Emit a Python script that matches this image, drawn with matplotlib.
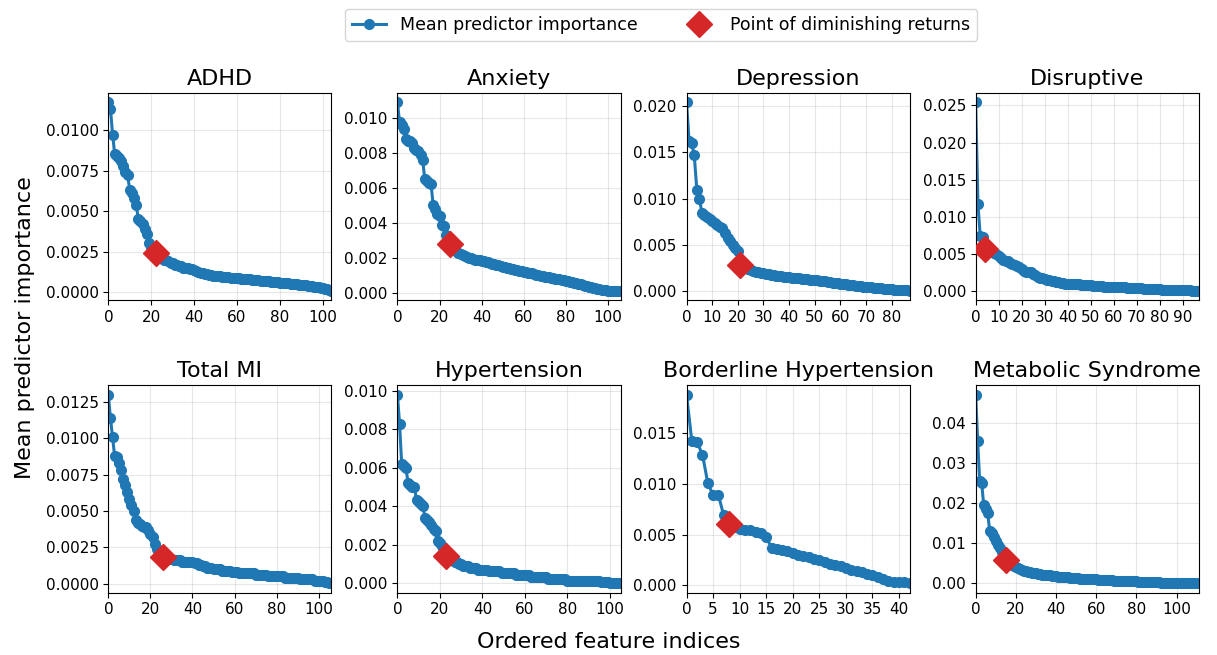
import matplotlib
matplotlib.use("Agg")
import matplotlib.pyplot as plt
from matplotlib.lines import Line2D
from matplotlib.ticker import MaxNLocator, MultipleLocator

plt.rcParams['font.family'] = ['DejaVu Sans']

titles = ["ADHD", "Anxiety", "Depression", "Disruptive",
          "Total MI", "Hypertension", "Borderline Hypertension", "Metabolic Syndrome"]

# knee index (point of diminishing returns) for each outcome
knees = [22, 25, 21, 4, 26, 23, 8, 15]

adhd = [.0117, .0113, .0097, .0085, .0084, .0083, .0081, .0078, .0074, .0072,
        .0063, .0061, .0058, .0054, .0045, .0044, .0042, .0039, .0036, .0030,
        .0028, .0026, .0024, .0023, .0022, .0021, .0020, .0020, .0019, .0018,
        .0018, .0017, .0017, .0016, .0016, .0015, .0015, .0015, .0014, .0014,
        .00135, .00130, .00125, .00120, .00117, .00113, .00110, .00107, .00104, .00102,
        .00100, .00099, .00097, .00096, .00095, .00093, .00092, .00090, .00089, .00088,
        .00086, .00085, .00083, .00082, .00080, .00079, .00078, .00076, .00075, .00074,
        .00072, .00071, .00070, .00068, .00067, .00066, .00064, .00063, .00062, .00060,
        .00059, .00057, .00056, .00054, .00053, .00051, .00050, .00048, .00047, .00045,
        .00044, .00042, .00041, .00039, .00038, .00036, .00034, .00032, .00030, .00027,
        .00024, .00021, .00017, .00012, .00007]

anxiety = [.0109, .0098, .0096, .0094, .0088, .0087, .0087, .0086, .0083, .0082,
           .0081, .0079, .0076, .0065, .0064, .0063, .0062, .0050, .0048, .0045,
           .0044, .0039, .0038, .0033, .0031, .0028, .0026, .0025, .0024, .0023,
           .0022, .00215, .0021, .00205, .0020, .00197, .00194, .0019, .00188, .00185,
           .00182, .0018, .00177, .00174, .0017, .00167, .00164, .0016, .00157, .00154,
           .0015, .00147, .00144, .0014, .00137, .00134, .0013, .00128, .00125, .00122,
           .0012, .00118, .00115, .00112, .0011, .00107, .00104, .0010, .00098, .00095,
           .00092, .00090, .00088, .00085, .00083, .00080, .00078, .00076, .00073, .00071,
           .00068, .00065, .00062, .00059, .00056, .00053, .00050, .00047, .00044, .00041,
           .00038, .00035, .00032, .00029, .00026, .00023, .00020, .00017, .00015, .00013,
           .00011, .0001, .0001, .0001, .0001, .0001, .0001]

depression = [.0204, .0162, .0160, .0147, .0110, .0100, .0085, .0083, .0080, .0078,
              .0076, .0074, .0072, .0070, .0068, .0063, .0058, .0054, .0050, .0047,
              .0044, .0028, .0026, .0025, .0024, .0023, .0022, .0021, .0021, .0020,
              .0020, .0019, .0019, .0018, .0018, .0017, .0017, .0017, .0016, .0016,
              .0016, .0015, .0015, .0014, .0014, .0013, .0013, .0013, .0012, .0012,
              .0012, .0012, .0011, .0011, .0011, .0010, .0010, .0009, .0009, .0009,
              .0008, .0008, .0008, .0007, .0007, .0007, .0006, .0006, .0006, .0005,
              .0005, .0005, .0005, .0004, .0004, .0004, .0004, .0003, .0003, .0003,
              .0003, .0002, .0002, .0002, .0001, .0001, .0001, .00005]

disruptive = [.0254, .0117, .0074, .0073, .0057, .0055, .0053, .0052, .0051, .0050,
              .0047, .0044, .0042, .0041, .0040, .0038, .0036, .0035, .0034, .0032,
              .0029, .0027, .0026, .0026, .0025, .0023, .0021, .0019, .0018, .0017,
              .0016, .0015, .0015, .0014, .0013, .0012, .0012, .0011, .0011, .0010,
              .0010, .0010, .0009, .0009, .0009, .0009, .0008, .0008, .0008, .0008,
              .0008, .0007, .0007, .0007, .0007, .0007, .0006, .0006, .0006, .0006,
              .0006, .0005, .0005, .0005, .0005, .0005, .0004, .0004, .0004, .0004,
              .0004, .0004, .0004, .0003, .0003, .0003, .0003, .0003, .0003, .0003,
              .0003, .0002, .0002, .0002, .0002, .0002, .0002, .0002, .0001, .0001,
              .0001, .0001, .0001, .0001, .00005, .00005, .00003, .00001]

total_mi = [.0130, .0114, .0101, .0088, .0087, .0083, .0078, .0072, .0068, .0063,
            .0058, .0054, .0050, .0044, .0042, .0041, .0040, .0039, .0039, .0037,
            .0034, .0032, .0027, .0024, .0022, .0020, .0018, .0018, .0017, .0017,
            .0017, .0016, .0016, .0016, .0016, .0015, .0015, .0015, .0015, .0015,
            .0015, .0014, .0014, .0013, .0013, .0012, .0012, .0011, .0011, .0011,
            .0010, .0010, .0010, .0010, .0009, .0009, .0009, .0009, .0009, .0008,
            .0008, .0008, .0007, .0007, .0007, .0007, .0007, .0007, .0007, .0007,
            .0006, .0006, .0006, .0006, .0006, .0006, .0005, .0005, .0005, .0005,
            .0005, .0005, .0005, .0005, .0004, .0004, .0004, .0004, .0004, .0004,
            .0004, .0003, .0003, .0003, .0003, .0003, .0003, .0003, .0002, .0002,
            .0002, .0002, .00015, .0001, .0001, .00005, .00002]

hypertension = [.0098, .0083, .0062, .0061, .0060, .0052, .0051, .0050, .0050, .0043,
                .0042, .0041, .0040, .0034, .0033, .0032, .0030, .0028, .0027, .0022,
                .0021, .0019, .0017, .0014, .0013, .0012, .0012, .0011, .0011, .0010,
                .0010, .0009, .0009, .0009, .0008, .0008, .0008, .0008, .0007, .0007,
                .0007, .0007, .0007, .0006, .0006, .0006, .0006, .0006, .0006, .0005,
                .0005, .0005, .0005, .0005, .0005, .0005, .0004, .0004, .0004, .0004,
                .0004, .0004, .0004, .0003, .0003, .0003, .0003, .0003, .0003, .0003,
                .0003, .0002, .0002, .0002, .0002, .0002, .0002, .0002, .0002, .0002,
                .0001, .0001, .0001, .0001, .0001, .0001, .0001, .0001, .0001, .0001,
                .0001, .0001, .0001, .0001, .0001, .00008, .00006, .00005, .00004, .00003,
                .00002, .00001, 0, 0, -.00001, -.00002]

borderline = [.0188, .0142, .0141, .0129, .0101, .0089, .0089, .0069, .0061, .0058,
              .0056, .0055, .0055, .0053, .0052, .0048, .0037, .0036, .0035, .0034,
              .0032, .0030, .0029, .0028, .0026, .0025, .0023, .0021, .0020, .0019,
              .0017, .0015, .0014, .0013, .0011, .0010, .0008, .0006, .0004, .0003,
              .0003, .0003, .0002]

metabolic = [.0470, .0355, .0255, .0250, .0195, .0185, .0175, .0130, .0125, .0115,
             .0105, .0095, .0087, .0078, .0068, .0057, .0052, .0049, .0046, .0043,
             .0040, .0038, .0036, .0034, .0032, .0030, .0029, .0028, .0027, .0026,
             .0025, .0024, .0023, .0022, .0022, .0021, .0020, .0020, .0019, .0019,
             .0018, .0017, .0017, .0016, .0016, .0015, .0015, .0014, .0014, .0013,
             .0013, .0013, .0012, .0012, .0012, .0011, .0011, .0011, .0010, .0010,
             .0010, .0009, .0009, .0009, .0009, .0008, .0008, .0008, .0008, .0007,
             .0007, .0007, .0006, .0006, .0006, .0006, .0005, .0005, .0005, .0005,
             .0005, .0004, .0004, .0004, .0004, .0004, .0003, .0003, .0003, .0003,
             .0003, .0003, .0002, .0002, .0002, .0002, .0002, .0001, .0001, .0001,
             .0001, .0001, .0001, .00005, .00005, .00005, .00003, .00002, .00001, 0,
             0, 0]

series = [adhd, anxiety, depression, disruptive, total_mi, hypertension, borderline, metabolic]

fig, axes = plt.subplots(2, 4, figsize=(12.17, 6.55), dpi=100)
fig.subplots_adjust(left=0.089, right=0.985, top=0.858, bottom=0.095,
                    wspace=0.296, hspace=0.41)

for ax, title, vals, k in zip(axes.flat, titles, series, knees):
    idx = list(range(len(vals)))
    ax.plot(idx, vals, color='#1f77b4', marker='o', markersize=7, linewidth=2.2)
    ax.plot(k, vals[k], marker='D', color='#d62728', markersize=13, linestyle='none', zorder=5)
    ax.set_xlim(0, len(vals) - 1)
    ax.xaxis.set_major_locator(MaxNLocator(10, steps=[1, 2, 5, 10]))
    ax.yaxis.set_major_locator(MaxNLocator(6, steps=[1, 2, 2.5, 5, 10]))
    ax.set_title(title, fontsize=16)
    ax.grid(True, alpha=0.3)
    ax.tick_params(labelsize=11)

axes[0, 0].yaxis.set_major_locator(MultipleLocator(0.0025))

fig.supylabel('Mean predictor importance', fontsize=16, x=0.012)
fig.supxlabel('Ordered feature indices', fontsize=16, y=0.005)

handles = [Line2D([0], [0], color='#1f77b4', marker='o', markersize=7, linewidth=2.2),
           Line2D([0], [0], color='#d62728', marker='D', markersize=13, linestyle='none')]
fig.legend(handles, ['Mean predictor importance', 'Point of diminishing returns'],
           loc='upper center', bbox_to_anchor=(0.543, 1.0), ncol=2, fontsize=12.5,
           columnspacing=2.5)

fig.savefig('out.png')
